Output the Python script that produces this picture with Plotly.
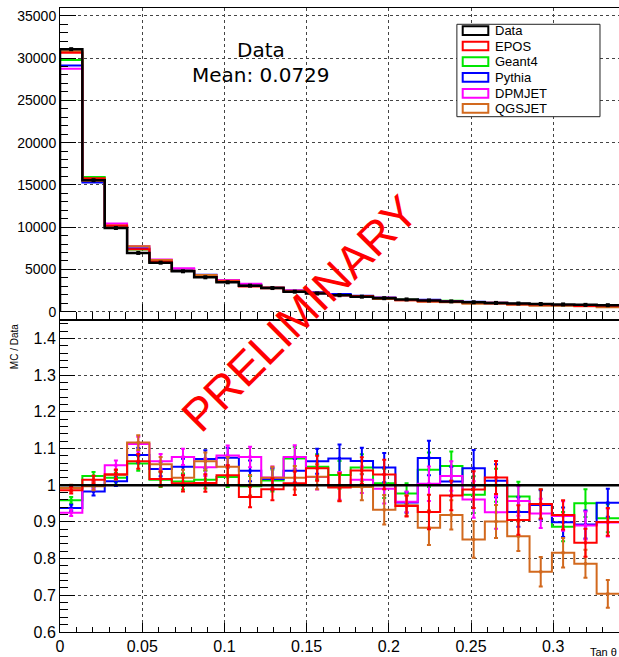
import plotly.graph_objects as go

# Binning: 25 bins in tan(theta) from 0 to 0.34
n_bins = 25
x_min, x_max = 0.0, 0.34
bin_width = (x_max - x_min) / n_bins
bin_edges = [x_min + i * bin_width for i in range(n_bins + 1)]
bin_centers = [x_min + (i + 0.5) * bin_width for i in range(n_bins)]

# Measured counts per bin
data_counts = [31050, 15550, 9900, 6950, 5800, 4780, 4070, 3480, 3080, 2800,
               2370, 2150, 1950, 1780, 1600, 1450, 1330, 1220, 1120, 1040,
               970, 910, 860, 810, 770]

# MC / Data ratios per generator
epos_ratio = [0.986, 1.015, 1.030, 1.065, 1.017, 1.005, 1.006, 1.027, 0.968, 0.989,
              1.005, 1.046, 0.994, 1.040, 1.029, 0.943, 0.927, 0.972, 0.988, 1.021,
              0.905, 0.949, 0.919, 0.843, 0.900]
geant4_ratio = [0.959, 1.025, 1.020, 1.059, 1.015, 1.010, 1.015, 1.022, 0.997, 1.013,
                1.073, 1.050, 1.028, 1.048, 1.005, 0.977, 1.042, 1.052, 0.974, 1.000,
                0.969, 0.948, 0.887, 0.951, 0.910]
pythia_ratio = [0.938, 0.983, 1.011, 1.082, 1.044, 1.050, 1.071, 1.075, 1.039, 1.017,
                1.039, 1.065, 1.073, 1.066, 1.048, 0.953, 1.074, 1.010, 1.046, 1.012,
                0.927, 0.946, 0.899, 0.893, 0.952]
dpmjet_ratio = [0.925, 1.000, 1.054, 1.112, 1.065, 1.077, 1.049, 1.081, 1.077, 1.021,
                1.077, 1.022, 0.998, 1.015, 0.990, 0.955, 1.004, 1.025, 0.961, 0.926,
                0.957, 0.923, 0.916, 0.890, 0.898]
qgsjet_ratio = [0.992, 0.997, 1.028, 1.116, 1.057, 1.020, 1.065, 1.050, 1.000, 1.020,
                1.020, 1.023, 0.995, 0.995, 0.933, 0.945, 0.884, 0.919, 0.852, 0.901,
                0.861, 0.764, 0.816, 0.786, 0.704]

# Statistical uncertainty on the ratio per bin
ratio_err = [0.009, 0.011, 0.013, 0.020, 0.020, 0.022, 0.024, 0.027, 0.028, 0.030,
             0.032, 0.034, 0.038, 0.036, 0.040, 0.028, 0.047, 0.040, 0.050, 0.045,
             0.040, 0.040, 0.040, 0.038, 0.038]

legend_names = ["Data", "EPOS", "Geant4", "Pythia", "DPMJET", "QGSJET"]
legend_colors = ["#000000", "#FF0000", "#00E600", "#0000FF", "#FF00FF", "#D2691E"]

models = [
    ("Geant4", "#00E600", geant4_ratio),
    ("Pythia", "#0000FF", pythia_ratio),
    ("DPMJET", "#FF00FF", dpmjet_ratio),
    ("QGSJET", "#D2691E", qgsjet_ratio),
    ("EPOS", "#FF0000", epos_ratio),
]

mean_value = 0.0729

FONT = "Liberation Sans, Arial, Helvetica, sans-serif"


def step_y(values):
    return list(values) + [values[-1]]


fig = go.Figure()

# ---- top panel: distributions ----
for name, color, ratio in models:
    mc = [r * d for r, d in zip(ratio, data_counts)]
    fig.add_trace(go.Scatter(x=bin_edges, y=step_y(mc), mode="lines",
                             line=dict(color=color, width=2, shape="hv"),
                             xaxis="x2", yaxis="y2", showlegend=False, name=name))

fig.add_trace(go.Scatter(x=[bin_edges[0]] + bin_edges, y=[0] + step_y(data_counts),
                         mode="lines", line=dict(color="black", width=2.5, shape="hv"),
                         xaxis="x2", yaxis="y2", showlegend=False, name="Data"))
fig.add_trace(go.Scatter(x=bin_centers, y=data_counts, mode="markers",
                         marker=dict(symbol="square", size=4, color="black"),
                         xaxis="x2", yaxis="y2", showlegend=False, name="Data"))

# ---- bottom panel: ratios ----
for name, color, ratio in models:
    fig.add_trace(go.Scatter(x=bin_edges, y=step_y(ratio), mode="lines",
                             line=dict(color=color, width=2, shape="hv"),
                             xaxis="x", yaxis="y", showlegend=False, name=name))
    fig.add_trace(go.Scatter(x=bin_centers, y=ratio, mode="markers",
                             marker=dict(symbol="square", size=3, color=color),
                             error_y=dict(type="data", array=ratio_err, color=color,
                                          thickness=2, width=2),
                             xaxis="x", yaxis="y", showlegend=False, name=name))

data_ratio = [d / d for d in data_counts]
fig.add_trace(go.Scatter(x=bin_edges, y=step_y(data_ratio), mode="lines",
                         line=dict(color="black", width=2.5, shape="hv"),
                         xaxis="x", yaxis="y", showlegend=False, name="Data"))

axis_common = dict(showline=True, linecolor="black", linewidth=1, mirror=True,
                   showgrid=True, gridcolor="#444444", griddash="dot", gridwidth=1,
                   zeroline=False, ticks="inside", tickcolor="black")

fig.update_layout(
    width=619, height=657,
    margin=dict(l=60, r=0, t=8, b=25),
    paper_bgcolor="white", plot_bgcolor="white",
    font=dict(family=FONT, color="black"),
    xaxis=dict(axis_common, domain=[0, 1], range=[x_min, x_max], tick0=0, dtick=0.05,
               ticklen=9, minor=dict(dtick=0.01, ticklen=5, ticks="inside",
                                     tickcolor="black", showgrid=False),
               tickfont=dict(size=16), anchor="y"),
    yaxis=dict(axis_common, domain=[0, 0.5], range=[0.6, 1.45], tick0=0.6, dtick=0.1,
               ticklen=15, minor=dict(dtick=0.02, ticklen=8, ticks="inside",
                                      tickcolor="black", showgrid=False),
               tickfont=dict(size=16), anchor="x"),
    xaxis2=dict(axis_common, domain=[0, 1], range=[x_min, x_max], tick0=0, dtick=0.05,
                ticklen=16, minor=dict(dtick=0.01, ticklen=8, ticks="inside",
                                       tickcolor="black", showgrid=False),
                showticklabels=False, anchor="y2", matches="x"),
    yaxis2=dict(axis_common, domain=[0.5, 1], range=[-980, 35920], tick0=0, dtick=5000,
                ticklen=16, minor=dict(dtick=1000, ticklen=8, ticks="inside",
                                       tickcolor="black", showgrid=False),
                tickformat="d", tickfont=dict(size=14), anchor="x2"),
)

annotations = [
    dict(text="Data", x=0.3596, y=0.9327, xref="paper", yref="paper",
         showarrow=False, xanchor="center", yanchor="middle",
         font=dict(family="DejaVu Sans", size=20, color="black")),
    dict(text="Mean: %.4f" % mean_value, x=0.3596, y=0.8926, xref="paper", yref="paper",
         showarrow=False, xanchor="center", yanchor="middle",
         font=dict(family="DejaVu Sans", size=20, color="black")),
    dict(text="Tan θ", x=1.0, y=-0.0316, xref="paper", yref="paper", showarrow=False,
         xanchor="right", yanchor="middle", font=dict(family=FONT, size=11)),
    dict(text="MC / Data", x=-0.0823, y=0.4973, xref="paper", yref="paper",
         showarrow=False, textangle=-90, xanchor="center", yanchor="top",
         font=dict(family=FONT, size=10)),
    dict(text="PRELIMINARY", x=0.4293, y=0.5112, xref="paper", yref="paper",
         showarrow=False, textangle=-45, xanchor="center", yanchor="middle",
         font=dict(family=FONT, size=46, color="#FF0000")),
]

# Legend box with outlined swatches
shapes = [dict(type="rect", xref="paper", yref="paper", x0=0.710, x1=0.966,
               y0=0.8258, y1=0.9739, line=dict(color="#222222", width=1),
               fillcolor="white", layer="above")]
row_y = [0.9636, 0.9391, 0.9139, 0.8889, 0.8633, 0.8393]
half_h = 0.0070
for name, color, yy in zip(legend_names, legend_colors, row_y):
    shapes.append(dict(type="rect", xref="paper", yref="paper", x0=0.7204, x1=0.7662,
                       y0=yy - half_h, y1=yy + half_h,
                       line=dict(color=color, width=2), fillcolor="rgba(0,0,0,0)",
                       layer="above"))
    annotations.append(dict(text=name, x=0.774, y=yy, xref="paper", yref="paper",
                            showarrow=False, xanchor="left", yanchor="middle",
                            font=dict(family=FONT, size=13, color="black")))

fig.update_layout(annotations=annotations, shapes=shapes)

fig.write_html("out.html")
